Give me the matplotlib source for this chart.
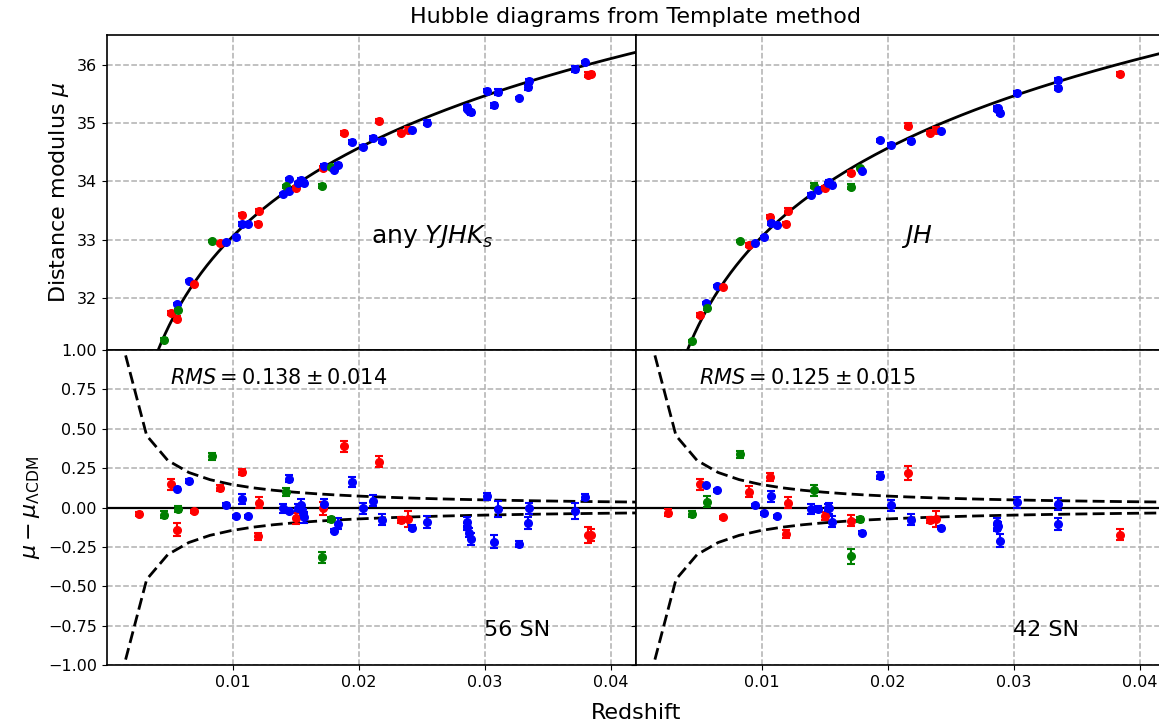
import numpy as np
import matplotlib.pyplot as plt

# cosmology used for the model curve and the peculiar-velocity envelope
H0 = 74.0
q0 = -0.55
c_kms = 299792.458
sigma_v = 200.0

# ---- any YJHKs sample (56 SN) ----
z_any = [0.00257, 0.00453, 0.00509, 0.00559, 0.00564, 0.00559, 0.00652, 0.00695,
         0.00832, 0.00899, 0.00947, 0.01023, 0.01071, 0.01076, 0.01124, 0.01206,
         0.01198, 0.01395, 0.01445, 0.01421, 0.01448, 0.01500, 0.01543, 0.01554,
         0.01564, 0.01713, 0.01721, 0.01710, 0.01782, 0.01800, 0.01838, 0.01885,
         0.01944, 0.02031, 0.02116, 0.02160, 0.02188, 0.02339, 0.02387, 0.02426,
         0.02540, 0.02862, 0.02862, 0.02877, 0.02894, 0.03020, 0.03107, 0.03071,
         0.03275, 0.03352, 0.03346, 0.03712, 0.03792, 0.03818, 0.03845, 0.01520]
mu_any = [30.05, 31.28, 31.73, 31.90, 31.79, 31.64, 32.29, 32.23,
          32.98, 32.94, 32.95, 33.05, 33.43, 33.27, 33.26, 33.49,
          33.27, 33.78, 34.04, 33.92, 33.84, 33.88, 34.02, 33.99,
          33.97, 34.23, 34.27, 33.92, 34.25, 34.20, 34.29, 34.84,
          34.68, 34.60, 34.74, 35.04, 34.70, 34.84, 34.89, 34.88,
          35.01, 35.28, 35.25, 35.22, 35.19, 35.56, 35.54, 35.31,
          35.44, 35.72, 35.62, 35.93, 36.06, 35.84, 35.85, 33.97]
res_any = [-0.040, -0.045, 0.149, 0.119, -0.010, -0.140, 0.168, -0.025,
           0.324, 0.123, 0.017, -0.055, 0.227, 0.053, -0.055, 0.030,
           -0.184, -0.006, 0.184, 0.098, -0.021, -0.067, 0.017, -0.032,
           -0.061, -0.006, 0.022, -0.315, -0.076, -0.148, -0.104, 0.390,
           0.161, -0.006, 0.043, 0.292, -0.078, -0.078, -0.072, -0.127,
           -0.093, -0.089, -0.121, -0.159, -0.199, 0.070, -0.010, -0.216,
           -0.231, -0.004, -0.099, -0.021, 0.068, -0.174, -0.174, 0.000]
err_any = [0.012, 0.020, 0.035, 0.010, 0.020, 0.040, 0.010, 0.010,
           0.020, 0.020, 0.010, 0.010, 0.020, 0.030, 0.010, 0.035,
           0.025, 0.030, 0.020, 0.025, 0.010, 0.035, 0.035, 0.020,
           0.035, 0.040, 0.030, 0.035, 0.015, 0.010, 0.035, 0.035,
           0.030, 0.035, 0.035, 0.035, 0.035, 0.020, 0.050, 0.015,
           0.040, 0.030, 0.025, 0.030, 0.040, 0.025, 0.050, 0.040,
           0.020, 0.035, 0.040, 0.050, 0.020, 0.050, 0.040, 0.020]
col_any = list("rgrbgrbrgrbbrbbrrbbgbrbbbrbggbbrbbbrbrrbbbbbbbbbbbbbbrrb")

# ---- JH sample (42 SN) ----
z_jh = [0.00252, 0.00446, 0.00504, 0.00555, 0.00560, 0.00644, 0.00692, 0.00827,
        0.00893, 0.00941, 0.01016, 0.01066, 0.01072, 0.01122, 0.01209, 0.01193,
        0.01392, 0.01416, 0.01445, 0.01498, 0.01533, 0.01520, 0.01557, 0.01705,
        0.01777, 0.01705, 0.01795, 0.01939, 0.02024, 0.02158, 0.02180, 0.02333,
        0.02381, 0.02421, 0.02862, 0.02862, 0.02886, 0.03021, 0.03352, 0.03347,
        0.03840, 0.02870]
mu_jh = [30.02, 31.25, 31.71, 31.91, 31.82, 32.20, 32.19, 32.98,
         32.91, 32.94, 33.05, 33.39, 33.28, 33.25, 33.50, 33.27,
         33.77, 33.93, 33.85, 33.89, 33.99, 33.97, 33.94, 34.14,
         34.24, 33.91, 34.18, 34.71, 34.62, 34.96, 34.69, 34.84,
         34.89, 34.87, 35.27, 35.24, 35.18, 35.52, 35.74, 35.61,
         35.85, 35.26]
res_jh = [-0.032, -0.042, 0.149, 0.142, 0.036, 0.110, -0.061, 0.337,
          0.100, 0.015, -0.038, 0.193, 0.072, -0.055, 0.030, -0.169,
          -0.010, 0.110, -0.010, -0.053, -0.004, 0.000, -0.089, -0.083,
          -0.076, -0.311, -0.161, 0.203, 0.015, 0.219, -0.078, -0.078,
          -0.074, -0.127, -0.099, -0.131, -0.210, 0.032, 0.022, -0.106,
          -0.172, -0.115]
err_jh = [0.025, 0.020, 0.035, 0.010, 0.035, 0.010, 0.010, 0.020,
          0.035, 0.010, 0.010, 0.025, 0.035, 0.010, 0.035, 0.025,
          0.030, 0.035, 0.020, 0.025, 0.035, 0.020, 0.035, 0.035,
          0.015, 0.045, 0.010, 0.025, 0.035, 0.045, 0.035, 0.020,
          0.050, 0.010, 0.035, 0.020, 0.040, 0.035, 0.040, 0.040,
          0.035, 0.020]
col_jh = list("rgrbgbrgrbbrbbrrbgbrbbbrggbbbrbrrbbbbbbbrb")

panel_labels = [r"any $YJHK_s$", r"$JH$"]
rms_labels = [r"$RMS = 0.138 \pm 0.014$", r"$RMS = 0.125 \pm 0.015$"]
count_labels = ["56 SN", "42 SN"]
xtick_vals = [0.01, 0.02, 0.03, 0.04]
res_ticks = [-1.0, -0.75, -0.5, -0.25, 0.0, 0.25, 0.5, 0.75, 1.0]


def mu_model(z):
    dl = c_kms * z / H0 * (1 + 0.5 * (1 - q0) * z)
    return 5 * np.log10(dl) + 25


def pec_err(z):
    return 5 / np.log(10) * sigma_v / (c_kms * z)


W, H = 1159.0, 726.0


def box(x0, y0, x1, y1):
    return [x0 / W, 1 - y1 / H, (x1 - x0) / W, (y1 - y0) / H]


fig = plt.figure(figsize=(11.59, 7.26), dpi=100)
ax_tl = fig.add_axes(box(106.7, 35, 636, 350))
ax_tr = fig.add_axes(box(636, 35, 1165.3, 350))
ax_bl = fig.add_axes(box(106.7, 350, 636, 665))
ax_br = fig.add_axes(box(636, 350, 1165.3, 665))

zfine = np.linspace(0.001, 0.045, 400)
zenv = np.linspace(0.0015, 0.05, 30)

samples = [(z_any, mu_any, res_any, err_any, col_any),
           (z_jh, mu_jh, res_jh, err_jh, col_jh)]

for i, (ax_t, ax_b) in enumerate([(ax_tl, ax_bl), (ax_tr, ax_br)]):
    z, mu, res, err, col = samples[i]

    ax_t.plot(zfine, mu_model(zfine), color="black", lw=2, zorder=3)
    for k in range(len(z)):
        ax_t.errorbar(z[k], mu[k], yerr=err[k], fmt="o", color=col[k],
                      ms=5.5, capsize=3, elinewidth=1.5, capthick=1.5, zorder=4)
        ax_b.errorbar(z[k], res[k], yerr=err[k], fmt="o", color=col[k],
                      ms=5.5, capsize=3, elinewidth=1.5, capthick=1.5, zorder=4)

    ax_b.axhline(0, color="black", lw=1.6, zorder=3)
    ax_b.plot(zenv, pec_err(zenv), color="black", ls="--", dashes=(4.3, 1.9), lw=2, zorder=3)
    ax_b.plot(zenv, -pec_err(zenv), color="black", ls="--", dashes=(4.3, 1.9), lw=2, zorder=3)

    ax_t.text(0.021, 32.94, panel_labels[i], fontsize=18, ha="left", va="baseline")
    ax_b.text(0.0050, 0.786, rms_labels[i], fontsize=15, ha="left", va="baseline")
    ax_b.text(0.0299, -0.816, count_labels[i], fontsize=16, ha="left", va="baseline")

    for ax in (ax_t, ax_b):
        ax.set_xlim(0, 0.042)
        ax.set_xticks(xtick_vals)
        ax.grid(True, ls="--", color="#b0b0b0", lw=1.1)
        ax.set_axisbelow(True)
        ax.tick_params(labelsize=11.5)
        for s in ax.spines.values():
            s.set_linewidth(1.2)

    ax_t.set_ylim(31.1, 36.52)
    ax_t.set_yticks([32, 33, 34, 35, 36])
    ax_t.tick_params(labelbottom=False)
    ax_b.set_ylim(-1, 1)
    ax_b.set_yticks(res_ticks)
    ax_b.set_xticklabels(["%.2f" % v for v in xtick_vals])

ax_bl.set_yticklabels([("%.2f" % v).replace("-", "\u2212") for v in res_ticks])
ax_tr.tick_params(labelleft=False)
ax_br.tick_params(labelleft=False)

ax_tl.set_ylabel(r"Distance modulus $\mu$", fontsize=16)
ax_bl.set_ylabel(r"$\mu - \mu_{\Lambda\mathrm{CDM}}$", fontsize=16)

fig.text(636 / W, 1 - 713 / H, "Redshift", fontsize=16, ha="center", va="center")
fig.text(636 / W, 1 - 17 / H, "Hubble diagrams from Template method",
         fontsize=16, ha="center", va="center")

plt.savefig("out.png", dpi=100)
